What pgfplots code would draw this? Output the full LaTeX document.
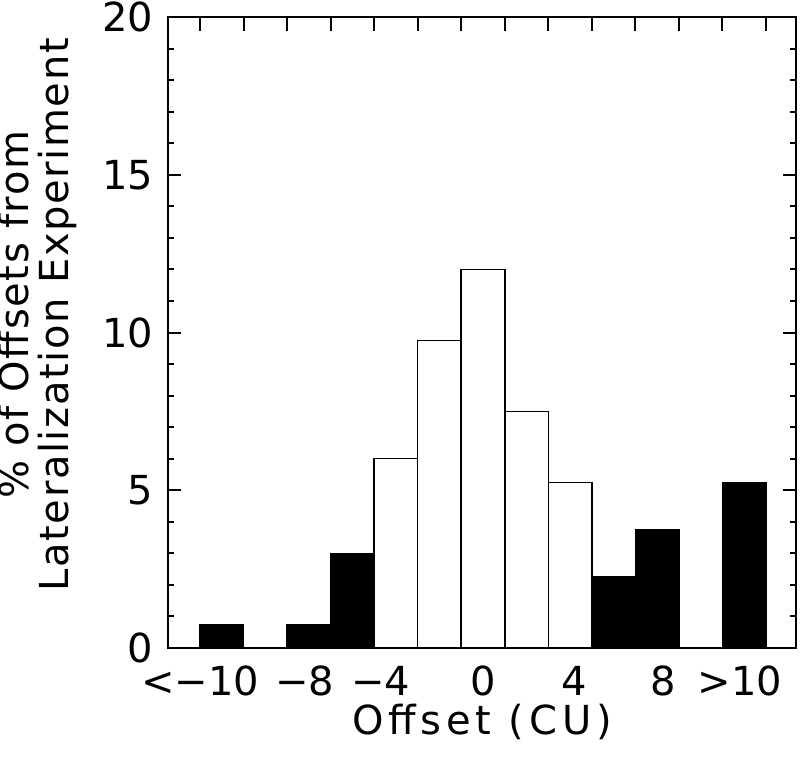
\documentclass[border=0pt]{standalone}
\usepackage{fontspec}
\setmainfont{DejaVu Sans}
\newfontfamily\lblfont[LetterSpace=4]{DejaVu Sans}
\newfontfamily\xlblfont[LetterSpace=12]{DejaVu Sans}
\usepackage{pgfplots}
\pgfplotsset{compat=1.18}
\begin{document}
\begin{tikzpicture}
\begin{axis}[
  name=ax,
  scale only axis, width=314pt, height=315.5pt,
  xmin=-13.47, xmax=15.38, ymin=0, ymax=20,
  axis on top,
  axis line style={line width=1pt},
  tick style={line width=1pt, black},
  tick align=inside,
  ytick={0,5,10,15,20}, minor y tick num=4,
  major tick length=6.5pt, minor tick length=3pt,
  ytick pos=both, yticklabel pos=left,
  xtick={-12,-7.2,-3.7,1,5.2,9.3,12.8},
  xticklabels={<−10,−8,−4,0,4,8,>10},
  xtick style={draw=none},
  /pgf/number format/assume math mode=true,
  ticklabel style={font=\fontsize{20}{22}\selectfont},
  yticklabel style={xshift=-4pt},
  xticklabel style={yshift=-5.5pt},
  xlabel={Offset (CU)},
  xlabel style={at={(axis description cs:0.5,-0.117)}, anchor=center, font=\fontsize{20}{22}\xlblfont},
  ylabel={\% of Offsets from\\Lateralization Experiment},
  ylabel style={at={(axis description cs:-0.208,0.528)}, anchor=center, align=center, font=\fontsize{20}{20}\lblfont},
]
\addplot[ybar, bar width=2, bar shift=0pt, fill=black, draw=black, line width=0.75pt]
  coordinates {(-11,0.75) (-7,0.75) (-5,3) (7,2.25) (9,3.75) (13,5.25)};
\addplot[ybar, bar width=2, bar shift=0pt, fill=white, draw=black, line width=0.75pt]
  coordinates {(-3,6) (-1,9.75) (1,12) (3,7.5) (5,5.25)};
\end{axis}
% top ticks at the bin edges
\begin{axis}[
  at={(ax.south west)}, anchor=south west,
  scale only axis, width=314pt, height=315.5pt,
  xmin=-13.47, xmax=15.38, ymin=0, ymax=20,
  axis line style={draw=none},
  ytick=\empty,
  xtick pos=right, xticklabel pos=right,
  xtick={-12,-10,-8,-6,-4,-2,0,2,4,6,8,10,12,14},
  xticklabel={\phantom{0}},
  xticklabel style={font=\tiny},
  tick align=inside, major tick length=7pt,
  major x tick style={black, line width=1pt},
]
\end{axis}
\pgfresetboundingbox
\path[use as bounding box] ([shift={(-84pt,-56pt)}]ax.south west) rectangle ([shift={(2pt,8.5pt)}]ax.north east);
\end{tikzpicture}
\end{document}
